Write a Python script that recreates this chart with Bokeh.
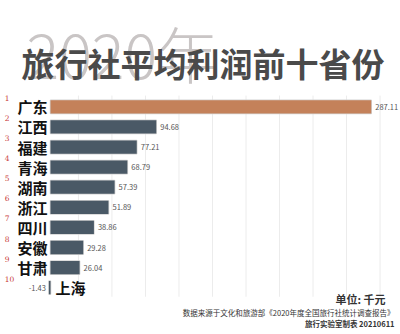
from bokeh.plotting import figure
from bokeh.models import Range1d, ColumnDataSource, Label
from bokeh.core.properties import value
from bokeh.embed import file_html
from bokeh.resources import INLINE

provinces = ["广东", "江西", "福建", "青海", "湖南", "浙江", "四川", "安徽", "甘肃", "上海"]
values = [287.11, 94.68, 77.21, 68.79, 57.39, 51.89, 38.86, 29.28, 26.04, -1.43]
ranks = [1, 2, 3, 4, 5, 6, 7, 8, 9, 10]
rank_labels = ["1", "2", "3", "4", "5", "6", "7", "8", "9", "10"]
value_labels = ["287.11", "94.68", "77.21", "68.79", "57.39", "51.89", "38.86", "29.28", "26.04", "-1.43"]
grid_values = [25, 55, 85, 115, 145, 175, 205, 235, 265, 295]

ORANGE = "#c4815a"
SLATE = "#4a5966"
colors = [ORANGE if r == 1 else SLATE for r in ranks]

W, H = 400, 334
p = figure(width=W, height=H, output_backend="svg", toolbar_location=None,
           x_range=Range1d(-44.76, 313.3), y_range=Range1d(12.328, -4.289),
           min_border=0, min_border_left=0, min_border_right=0,
           min_border_top=0, min_border_bottom=0)
p.axis.visible = False
p.xgrid.visible = False
p.ygrid.visible = False
p.outline_line_color = None
p.background_fill_color = "white"
p.border_fill_color = "white"

# grid lines
p.segment(x0=grid_values, x1=grid_values, y0=[0.44] * len(grid_values), y1=[10.45] * len(grid_values),
          line_color="#ececec", line_width=1)

src = ColumnDataSource(dict(
    prov=provinces, val=values, rank=ranks, rl=rank_labels, vl=value_labels,
    zero=[0] * len(values), color=colors,
))

# shadow + bars
p.hbar(y="rank", left="zero", right="val", height=0.66, source=src,
       fill_color="#d2d2d2", line_color="#d2d2d2", line_width=1.5)
p.hbar(y="rank", left="zero", right="val", height=0.66, source=src,
       fill_color="color", line_color=None)

pos = [i for i, v in enumerate(values) if v >= 0]
neg = [i for i, v in enumerate(values) if v < 0]
pos_src = ColumnDataSource(dict(
    val=[values[i] for i in pos], rank=[ranks[i] for i in pos],
    vl=[value_labels[i] for i in pos], prov=[provinces[i] for i in pos],
    zero=[0] * len(pos)))
neg_src = ColumnDataSource(dict(
    val=[values[i] for i in neg], rank=[ranks[i] for i in neg],
    vl=[value_labels[i] for i in neg], prov=[provinces[i] for i in neg],
    zero=[0] * len(neg)))

FONT = value("Noto Sans CJK SC")

# value labels
p.text(x="val", y="rank", text="vl", source=pos_src, x_offset=4, text_align="left",
       text_baseline="middle", text_font_size="7.5px", text_color="#555555", text_font=FONT)
p.text(x="val", y="rank", text="vl", source=neg_src, x_offset=-3, text_align="right",
       text_baseline="middle", text_font_size="7.5px", text_color="#555555", text_font=FONT)

# province names
p.text(x="zero", y="rank", text="prov", source=pos_src, x_offset=-3, text_align="right",
       text_baseline="middle", text_font_size="15px", text_color="#111111",
       text_font=FONT, text_font_style="bold")
p.text(x="zero", y="rank", text="prov", source=neg_src, x_offset=5, text_align="left",
       text_baseline="middle", text_font_size="15px", text_color="#111111",
       text_font=FONT, text_font_style="bold")

# rank numbers
p.text(x=[-41.0] * len(ranks), y=ranks, text=rank_labels, y_offset=-9, text_align="left",
       text_baseline="middle", text_font_size="7.5px", text_color="#c83a3a",
       text_font=value("DejaVu Serif"))

# titles
p.add_layout(Label(x=26, y=H - 52, x_units="screen", y_units="screen", text="2020年",
                   text_font="Noto Sans CJK SC Light", text_font_size="61px",
                   text_color="#c9c5c5", text_align="left", text_baseline="alphabetic"))
p.add_layout(Label(x=21, y=H - 62, x_units="screen", y_units="screen", text="旅行社平均利润前十省份",
                   text_font="Noto Sans CJK SC", text_font_size="33px", text_font_style="bold",
                   text_color="#4a4a4a", text_align="left", text_baseline="middle"))

# footer
p.add_layout(Label(x=385, y=H - 298, x_units="screen", y_units="screen", text="单位: 千元",
                   text_font="Noto Sans CJK SC", text_font_size="11px", text_font_style="bold",
                   text_color="#333333", text_align="right", text_baseline="middle"))
p.add_layout(Label(x=394, y=H - 312, x_units="screen", y_units="screen",
                   text="数据来源于文化和旅游部《2020年度全国旅行社统计调查报告》",
                   text_font="Noto Sans CJK SC", text_font_size="7.5px",
                   text_color="#333333", text_align="right", text_baseline="middle"))
p.add_layout(Label(x=394, y=H - 323, x_units="screen", y_units="screen",
                   text="旅行实验室制表 20210611",
                   text_font="Noto Sans CJK SC", text_font_size="7.5px", text_font_style="bold",
                   text_color="#333333", text_align="right", text_baseline="middle"))

open("out.html", "w").write(file_html(p, INLINE))
